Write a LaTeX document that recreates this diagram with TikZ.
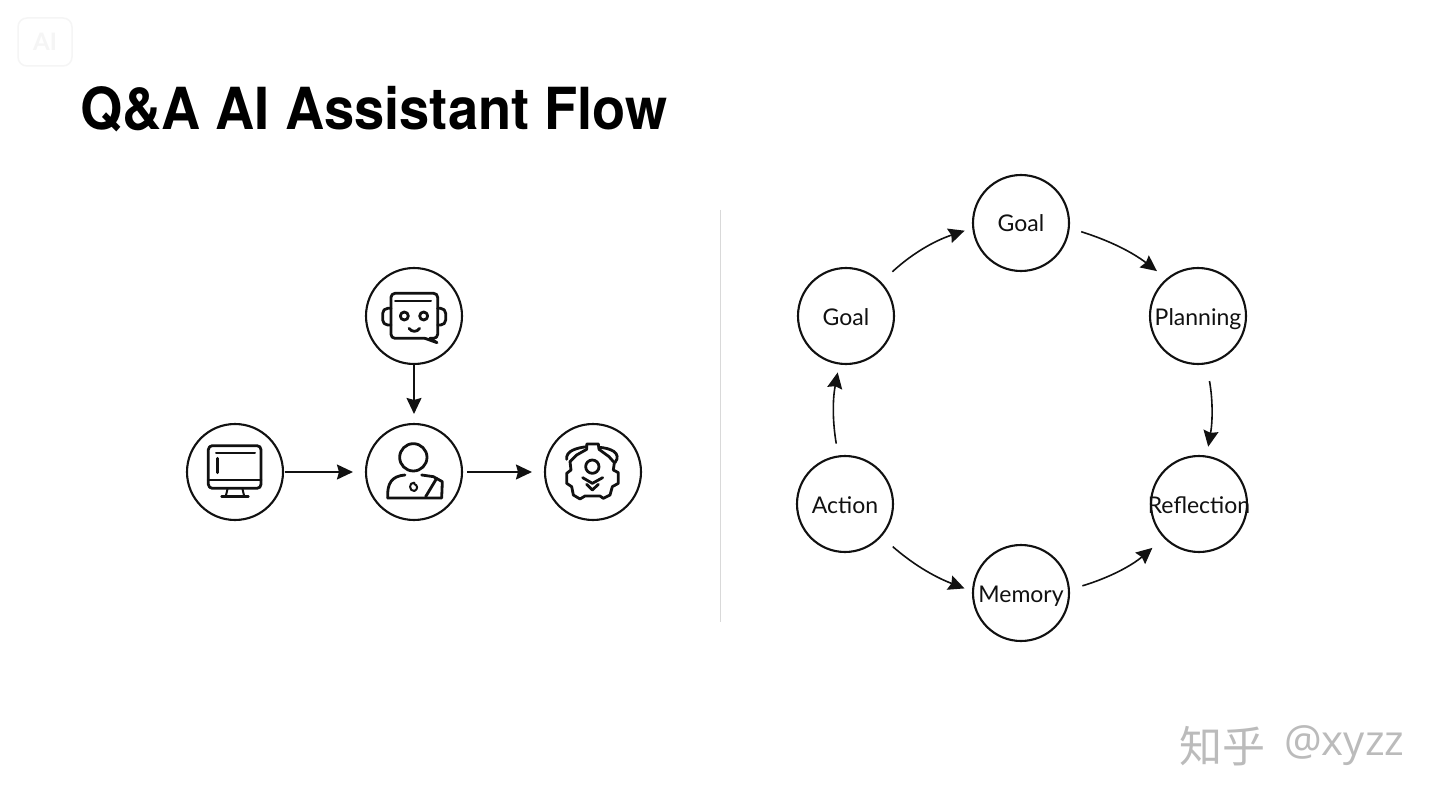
\documentclass[tikz,border=0pt]{standalone}
\usepackage{fontspec}
\setmainfont{Lato}
\newfontfamily\titlefont[FakeStretch=0.935]{TeX Gyre Heros}
\newfontfamily\cjkfont{Noto Sans CJK SC}
\newfontfamily\markfont{Open Sans}
\usetikzlibrary{arrows.meta}
\definecolor{inkblack}{HTML}{111111}
\definecolor{markgray}{HTML}{BBBBBB}
\definecolor{faintgray}{HTML}{F5F5F5}
\tikzset{
	stepcircle/.style={shape=circle, draw=inkblack, line width=2.1pt, minimum size=96pt, inner sep=-8pt, text height=18pt, text depth=0pt, font=\fontsize{23}{28}\selectfont, text=inkblack},
	flow/.style={draw=inkblack, line width=1.6pt, -{Stealth[length=16pt, width=15pt, inset=2pt]}},
	iconline/.style={draw=inkblack, line width=2.8pt, line join=round, line cap=round},
	iconthin/.style={draw=inkblack, line width=2pt, line join=round, line cap=round}
}

\begin{document}
\begin{tikzpicture}[x=1pt, y=-1pt]
	\useasboundingbox[fill=white] (0, 0) rectangle (1440, 810);
	% Corner badge and title:
	\node[shape=rectangle, rounded corners=9pt, draw=faintgray, line width=1.5pt, minimum width=54pt, minimum height=48pt, text=faintgray, font=\bfseries\fontsize{24}{28}\selectfont] (badge) at (45, 42){AI};
	\node[anchor=base west, inner sep=0pt, text=black, font=\titlefont\bfseries\fontsize{58}{62}\selectfont] (title) at (80, 130){Q\&A AI Assistant Flow};
	% Divider:
	\coordinate (divtop) at (720, 210);
	\coordinate (divbot) at (720, 622);
	\draw[draw=black!15, line width=1pt] (divtop) -- (divbot);
	% Left flow nodes:
	\node[stepcircle] (robot) at (414, 316){};
	\node[stepcircle] (monitor) at (235, 472){};
	\node[stepcircle] (person) at (414, 472){};
	\node[stepcircle] (gear) at (593, 472){};
	\draw[flow, shorten >=9pt] (robot) -- (person);
	\draw[flow, shorten <=1pt, shorten >=12pt] (monitor) -- (person);
	\draw[flow, shorten <=4pt, shorten >=12pt] (person) -- (gear);
	% Robot icon:
	\begin{scope}[shift={(355, 265)}, scale=1/3]
		\draw[iconline, rounded corners=4pt] (210, 220) -- (108, 220) -- (108, 85) -- (248, 85) -- (248, 220) -- (225, 220);
		\draw[iconline] (210, 220) -- (246, 233) -- (225, 220);
		\draw[iconthin] (120, 107) -- (228, 107);
		\draw[iconline, rounded corners=5pt] (108, 130) -- (83, 130) -- (83, 180) -- (108, 180);
		\draw[iconline, rounded corners=5pt] (248, 130) -- (272, 130) -- (272, 180) -- (248, 180);
		\draw[iconline] (148, 153) circle (12);
		\draw[iconline] (206, 153) circle (12);
		\draw[iconline] (162, 190) .. controls (170, 202) and (186, 202) .. (194, 190);
	\end{scope}
	% Monitor icon:
	\begin{scope}[shift={(180, 420)}, scale=1/3]
		\draw[iconline, rounded corners=4pt] (85, 77) rectangle (243, 205);
		\draw[iconline] (85, 180) -- (243, 180);
		\draw[iconthin] (108, 100) -- (225, 100);
		\draw[iconline] (113, 115) -- (113, 158);
		\draw[iconthin] (143, 205) -- (137, 230);
		\draw[iconthin] (187, 205) -- (193, 230);
		\draw[iconline] (125, 230) -- (205, 230);
	\end{scope}
	% Person icon:
	\begin{scope}[shift={(355, 420)}, scale=1/3]
		\draw[iconline] (175, 112) circle (41);
		\draw[iconline] (98, 234) .. controls (96, 190) and (110, 168) .. (150, 165);
		\draw[iconline] (200, 165) -- (235, 170) -- (262, 185) -- (260, 234) -- (98, 234);
		\draw[iconline] (212, 230) -- (245, 175);
		\draw[iconthin] (178, 188) .. controls (160, 186) and (162, 215) .. (178, 213) .. controls (190, 208) and (188, 195) .. (178, 192);
	\end{scope}
	% Gear icon:
	\begin{scope}[shift={(535, 420)}, scale=1/3]
		\draw[iconline] (155, 72) -- (190, 72) -- (192, 88) -- (222, 110) -- (238, 128) -- (235, 150) -- (250, 158) -- (250, 190) -- (232, 200) -- (225, 225) -- (205, 235) -- (195, 228) -- (150, 228) -- (135, 237) -- (115, 225) -- (110, 200) -- (95, 190) -- (95, 160) -- (108, 150) -- (105, 125) -- (125, 105) -- (155, 88) -- cycle;
		\draw[iconline] (95, 118) .. controls (92, 92) and (125, 84) .. (155, 80);
		\draw[iconline] (192, 82) .. controls (225, 84) and (262, 98) .. (240, 128);
		\draw[iconline] (172, 140) circle (20);
		\draw[iconline] (143, 173) -- (172, 190) -- (203, 173);
		\draw[iconline] (155, 193) -- (172, 210) -- (190, 193);
	\end{scope}
	% Right cycle nodes:
	\node[stepcircle] (goaltop) at (1021, 223){Goal};
	\node[stepcircle] (goalleft) at (846, 316){Goal};
	\node[stepcircle] (planning) at (1198, 316){Planning};
	\node[stepcircle] (action) at (845, 504){Action};
	\node[stepcircle] (reflection) at (1199, 504){Reflection};
	\node[stepcircle] (memory) at (1021, 593){Memory};
	\draw[flow, shorten <=15pt, shorten >=8pt] (goalleft.44) to[bend left=12] (goaltop.186);
	\draw[flow, shorten <=12pt, shorten >=12pt] (goaltop.-6) to[bend left=10] (planning.130);
	\draw[flow, shorten <=17pt, shorten >=9pt] (planning.-80) to[bend left=10] (reflection.81);
	\draw[flow, shorten <=13pt, shorten >=15pt] (memory.4) to[bend right=12] (reflection.224);
	\draw[flow, shorten <=15pt, shorten >=8pt] (action.-42) to[bend right=10] (memory.178);
	\draw[flow, shorten <=12pt, shorten >=8pt] (action.98) to[bend left=10] (goalleft.-98);
	% Watermark:
	\node[anchor=west, inner sep=0pt, text=markgray, font=\cjkfont\fontsize{43}{46}\selectfont] (markcjk) at (1179, 746){知乎};
	\node[anchor=west, inner sep=0pt, text=markgray, font=\markfont\fontsize{42}{46}\selectfont] (markname) at (1284, 746){@xyzz};
\end{tikzpicture}
\end{document}
